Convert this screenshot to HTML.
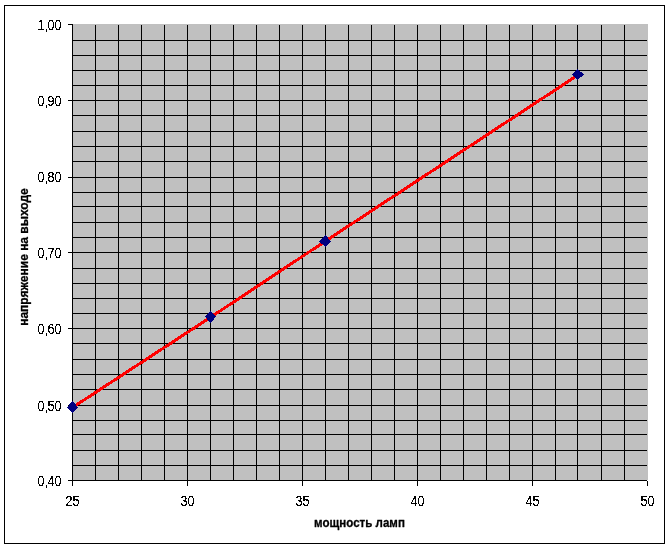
<!DOCTYPE html>
<html lang="ru"><head><meta charset="utf-8"><title>График</title>
<style>
html,body{margin:0;padding:0;background:#fff;}
body{width:668px;height:547px;overflow:hidden;position:relative;font-family:"Liberation Sans",Arial,sans-serif;}
svg{position:absolute;left:0;top:0;display:block;}
text{font-family:"Liberation Sans",Arial,sans-serif;fill:#000;}
.lbl{font-size:14.5px;}
.ttl{font-size:13.33px;font-weight:bold;stroke:#000;stroke-width:0.3px;stroke-linejoin:round;}
</style></head><body>
<svg width="668" height="547" viewBox="0 0 668 547">
<rect x="0" y="0" width="668" height="547" fill="#fff"/>
<g shape-rendering="crispEdges">
<rect x="4.5" y="5.5" width="660" height="538" fill="none" stroke="#000" stroke-width="1"/>
<rect x="73" y="24" width="575" height="456" fill="#c0c0c0"/>
<path fill="#000" d="M95 25h1v455h-1zM118 25h1v455h-1zM141 25h1v455h-1zM164 25h1v455h-1zM187 25h1v455h-1zM210 25h1v455h-1zM233 25h1v455h-1zM256 25h1v455h-1zM279 25h1v455h-1zM302 25h1v455h-1zM325 25h1v455h-1zM348 25h1v455h-1zM371 25h1v455h-1zM394 25h1v455h-1zM417 25h1v455h-1zM440 25h1v455h-1zM463 25h1v455h-1zM486 25h1v455h-1zM509 25h1v455h-1zM532 25h1v455h-1zM555 25h1v455h-1zM577 25h1v455h-1zM601 25h1v455h-1zM624 25h1v455h-1zM73 465h574v1h-574zM73 450h574v1h-574zM73 434h574v1h-574zM73 420h574v1h-574zM73 405h574v1h-574zM73 389h574v1h-574zM73 374h574v1h-574zM73 359h574v1h-574zM73 343h574v1h-574zM73 328h574v1h-574zM73 313h574v1h-574zM73 298h574v1h-574zM73 283h574v1h-574zM73 268h574v1h-574zM73 252h574v1h-574zM73 237h574v1h-574zM73 222h574v1h-574zM73 206h574v1h-574zM73 192h574v1h-574zM73 177h574v1h-574zM73 161h574v1h-574zM73 146h574v1h-574zM73 131h574v1h-574zM73 115h574v1h-574zM73 100h574v1h-574zM73 85h574v1h-574zM73 70h574v1h-574zM73 55h574v1h-574zM73 40h574v1h-574z"/>
<path fill="#000" d="M72 24h1v462h-1zM68 480h579v1h-579zM68 405h4v1h-4zM68 328h4v1h-4zM68 252h4v1h-4zM68 177h4v1h-4zM68 100h4v1h-4zM68 24h4v1h-4zM187 481h1v5h-1zM302 481h1v5h-1zM417 481h1v5h-1zM532 481h1v5h-1zM647 481h1v5h-1z"/>
<polyline fill="none" stroke="#ff0000" stroke-width="3" stroke-linejoin="round" points="72.5,407.5 210.5,317.3 325.5,241.1 577.5,75.3"/>
<path fill="#000080" d="M72 401h1v1h-1zM71 402h3v1h-3zM70 403h5v1h-5zM69 404h7v1h-7zM69 405h7v1h-7zM68 406h9v1h-9zM67 407h11v1h-11zM68 408h9v1h-9zM69 409h7v1h-7zM70 410h5v1h-5zM71 411h3v1h-3zM72 412h1v1h-1z"/>
<path fill="#000080" d="M210 311h1v1h-1zM209 312h3v1h-3zM208 313h5v1h-5zM207 314h7v1h-7zM206 315h9v1h-9zM205 316h11v1h-11zM206 317h9v1h-9zM207 318h7v1h-7zM207 319h7v1h-7zM208 320h5v1h-5zM209 321h3v1h-3zM210 322h1v1h-1z"/>
<path fill="#000080" d="M325 235h1v1h-1zM324 236h3v1h-3zM323 237h5v1h-5zM322 238h6v1h-6zM321 239h8v1h-8zM320 240h10v1h-10zM319 241h12v1h-12zM320 242h10v1h-10zM321 243h8v1h-8zM323 244h5v1h-5zM324 245h3v1h-3zM325 246h1v1h-1z"/>
<path fill="#000080" d="M577 69h1v1h-1zM576 70h3v1h-3zM575 71h5v1h-5zM574 72h8v1h-8zM573 73h10v1h-10zM572 74h12v1h-12zM573 75h10v1h-10zM574 76h8v1h-8zM575 77h5v1h-5zM576 78h3v1h-3zM577 79h1v1h-1z"/>
</g>
<defs><filter id="px" x="0" y="0" width="668" height="547" filterUnits="userSpaceOnUse" color-interpolation-filters="sRGB"><feComponentTransfer><feFuncA type="discrete" tableValues="0 0 0 1 1 1 1"/></feComponentTransfer></filter></defs>
<g filter="url(#px)">
<text class="lbl" x="0.000 8.065 11.521 19.585" transform="translate(37.5,30) scale(0.868,1)">1,00</text>
<text class="lbl" x="0.000 8.065 11.521 19.585" transform="translate(37.5,106) scale(0.868,1)">0,90</text>
<text class="lbl" x="0.000 8.065 11.521 19.585" transform="translate(37.5,182) scale(0.868,1)">0,80</text>
<text class="lbl" x="0.000 8.065 11.521 19.585" transform="translate(37.5,258) scale(0.868,1)">0,70</text>
<text class="lbl" x="0.000 8.065 11.521 19.585" transform="translate(37.5,334) scale(0.868,1)">0,60</text>
<text class="lbl" x="0.000 8.065 11.521 19.585" transform="translate(37.5,411) scale(0.868,1)">0,50</text>
<text class="lbl" x="0.000 8.065 11.521 19.585" transform="translate(37.5,486) scale(0.868,1)">0,40</text>
<text class="lbl" x="0.000 8.065" transform="translate(65.5,506) scale(0.868,1)">25</text>
<text class="lbl" x="0.000 8.065" transform="translate(180.5,506) scale(0.868,1)">30</text>
<text class="lbl" x="0.000 8.065" transform="translate(295.5,506) scale(0.868,1)">35</text>
<text class="lbl" x="0.000 8.065" transform="translate(410.5,506) scale(0.868,1)">40</text>
<text class="lbl" x="0.000 8.065" transform="translate(525.5,506) scale(0.868,1)">45</text>
<text class="lbl" x="0.000 8.065" transform="translate(640.5,506) scale(0.868,1)">50</text>
</g>
<g>
<text class="ttl" transform="translate(359.5,527) scale(0.867,1)" text-anchor="middle">мощность ламп</text>
<text class="ttl" transform="translate(28,257) rotate(-90) scale(0.90,1)" text-anchor="middle">напряжение на выходе</text>
</g>
</svg></body></html>
